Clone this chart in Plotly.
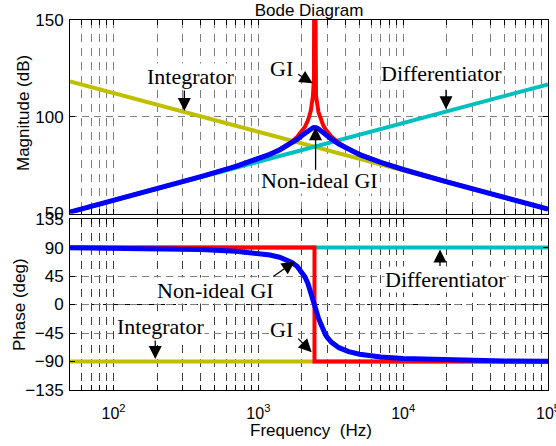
import math
import plotly.graph_objects as go

# ---------------- data ----------------
freq = [50, 100, 200, 400, 700, 1000, 1200, 1400, 1550, 1700, 1850, 2000, 2100,
        2200, 2300, 2380, 2420, 2440, 2460, 2500, 2600, 2700, 2800, 2900, 3000,
        3200, 3600, 4200, 5000, 7000, 10000, 20000, 50000, 100000]

# ideal generalized integrator magnitude (dB); resonance peak goes off scale
gi_mag = [50.73, 56.77, 62.83, 69.03, 74.40, 78.35, 80.74, 83.14, 85.05, 87.13,
          89.53, 92.45, 94.92, 98.16, 103.04, 110.56, 120.17, 250.0, 120.24, 110.77,
          102.42, 98.36, 95.68, 93.69, 92.12, 89.71, 86.46, 83.36, 80.63, 76.47,
          72.78, 66.36, 58.29, 52.25]

# non-ideal generalized integrator magnitude (dB) and phase (deg)
nonideal_mag = [50.73, 56.76, 62.83, 69.02, 74.36, 78.24, 80.56, 82.83, 84.57, 86.38,
                88.30, 90.31, 91.64, 92.87, 93.84, 94.29, 94.39, 94.40, 94.39, 94.30,
                93.76, 92.93, 91.98, 91.02, 90.10, 88.44, 85.82, 83.03, 80.45, 76.40,
                72.75, 66.35, 58.29, 52.25]
nonideal_phase = [89.62, 89.25, 88.49, 86.91, 84.29, 81.04, 78.27, 74.69, 71.18, 66.57,
                  60.29, 51.36, 43.27, 32.96, 20.28, 8.85, 2.94, 0.0, -2.92, -8.63,
                  -21.66, -32.37, -40.79, -47.33, -52.44, -59.76, -68.14, -74.33, -78.42, -82.76,
                  -85.25, -87.73, -89.10, -89.55]

# ideal GI phase: step from +90 to -90 at the resonance frequency
gi_phase_freq = [50, 2440, 2440, 100000]
gi_phase = [90, 90, -90, -90]

# integrator and differentiator (straight lines on the log axis)
line_freq = [50, 100000]
integrator_mag = [118.27, 52.25]
differentiator_mag = [50.73, 116.75]
integrator_phase = [-90, -90]
differentiator_phase = [90, 90]

# axis ticks
mag_ticks = [50, 100, 150]
phase_ticks = [-135, -90, -45, 0, 45, 90, 135]
decades = [100, 1000, 10000, 100000]
decade_labels = ["10<sup>2</sup>", "10<sup>3</sup>", "10<sup>4</sup>", "10<sup>5</sup>"]

# ---------------- styling ----------------
YELLOW = "#BFBF00"
CYAN = "#00BFBF"
RED = "#FF0000"
BLUE = "#0000FF"
SANS = "Liberation Sans, Arial, sans-serif"
SERIF = "Liberation Serif, Times New Roman, serif"

# every log grid position between 50 Hz and 100 kHz
grid_vals = []
grid_text = []
for e in range(1, 6):
    for m in range(1, 10):
        v = m * 10 ** e
        if 50 <= v <= 100000:
            grid_vals.append(v)
            grid_text.append(decade_labels[decades.index(v)] if v in decades else "")

fig = go.Figure()

def add(x, y, color, width, xa, ya):
    fig.add_trace(go.Scatter(x=x, y=y, mode="lines", xaxis=xa, yaxis=ya,
                             line=dict(color=color, width=width), showlegend=False,
                             hoverinfo="skip"))

# magnitude plot
add(line_freq, integrator_mag, YELLOW, 4, "x", "y")
add(line_freq, differentiator_mag, CYAN, 4, "x", "y")
add(freq, gi_mag, RED, 4, "x", "y")
add(freq, nonideal_mag, BLUE, 5, "x", "y")

# phase plot
add(line_freq, integrator_phase, YELLOW, 4, "x2", "y2")
add(line_freq, differentiator_phase, CYAN, 4, "x2", "y2")
add(gi_phase_freq, gi_phase, RED, 4, "x2", "y2")
add(freq, nonideal_phase, BLUE, 5, "x2", "y2")

xcommon = dict(type="log", range=[math.log10(50), 5], showline=True, linecolor="black",
               linewidth=1, mirror="ticks", ticks="inside", ticklen=5, tickcolor="black",
               tickvals=grid_vals, ticktext=grid_text, showgrid=True, gridwidth=1,
               griddash="8px,6px", zeroline=False, ticklabeloverflow="allow",
               automargin=False, tickfont=dict(family=SANS, size=16, color="black"))
ycommon = dict(showline=True, linecolor="black", linewidth=1, mirror="ticks",
               ticks="inside", ticklen=5, tickcolor="black", showgrid=True,
               gridcolor="#808080", gridwidth=1, griddash="7px,5px", zeroline=False,
               automargin=False, tickfont=dict(family=SANS, size=17, color="black"),
               ticklabelstandoff=2)

fig.update_layout(
    width=556, height=446,
    margin=dict(l=70, r=8, t=20, b=56, autoexpand=False),
    paper_bgcolor="white", plot_bgcolor="white",
    xaxis=dict(xcommon, anchor="y", showticklabels=False, gridcolor="#808080"),
    xaxis2=dict(xcommon, anchor="y2", showticklabels=True, gridcolor="#404040",
                ticklabelstandoff=9),
    yaxis=dict(ycommon, domain=[0.477, 1.0], range=[50, 150], tickvals=mag_ticks),
    yaxis2=dict(ycommon, domain=[0.0, 0.462], range=[-135, 135], tickvals=phase_ticks),
    title=dict(text="Bode Diagram", x=0.5, xref="paper", xanchor="center",
               y=(446 - 10) / 446, yref="container", yanchor="middle",
               font=dict(family=SANS, size=17, color="black")),
    font=dict(family=SANS, color="black"),
)

# darker dashed zero line on the phase plot
fig.add_shape(type="line", xref="x2 domain", yref="y2", x0=0, x1=1, y0=0, y1=0,
              line=dict(color="black", width=1, dash="7px,4px"), layer="below")

ann = []
# axis titles
ann.append(dict(text="Magnitude (dB)", xref="paper", yref="paper", x=(23 - 70) / 478,
                y=(390 - 113) / 370, textangle=-90, showarrow=False,
                xanchor="center", yanchor="middle", font=dict(family=SANS, size=17)))
ann.append(dict(text="Phase (deg)", xref="paper", yref="paper", x=(19 - 70) / 478,
                y=(390 - 305) / 370, textangle=-90, showarrow=False,
                xanchor="center", yanchor="middle", font=dict(family=SANS, size=17)))
ann.append(dict(text="Frequency  (Hz)", xref="paper", yref="paper", x=(311 - 70) / 478,
                y=(390 - 430) / 370, showarrow=False, xanchor="center", yanchor="middle",
                font=dict(family=SANS, size=17)))

def label(text, f, v, xr, yr):
    ann.append(dict(text=text, x=math.log10(f), y=v, xref=xr, yref=yr, showarrow=False,
                    bgcolor="white", borderpad=0, xanchor="center", yanchor="middle",
                    font=dict(family=SERIF, size=22, color="black")))

def arrow(f, v, ax, ay, xr, yr):
    ann.append(dict(text="", x=math.log10(f), y=v, xref=xr, yref=yr, showarrow=True,
                    ax=ax, ay=ay, arrowhead=2, arrowsize=2.0, arrowwidth=1.3,
                    arrowcolor="black"))

# magnitude labels
label("Integrator", 338, 120.9, "x", "y")
label("GI", 1450, 125.0, "x", "y")
label("Differentiator", 18530, 122.4, "x", "y")
label("Non-ideal GI", 2647, 67.3, "x", "y")
arrow(308, 103.0, 0, -22, "x", "y")
arrow(2370, 117.3, -16, -10, "x", "y")
arrow(19750, 103.9, 0, -21, "x", "y")
arrow(2483, 94.6, 0, 44, "x", "y")

# phase labels
label("Non-ideal GI", 502, 22.3, "x2", "y2")
label("GI", 1450, -39.0, "x2", "y2")
label("Differentiator", 19450, 39.6, "x2", "y2")
label("Integrator", 210, -34.3, "x2", "y2")
arrow(1782, 68.0, -23, 16, "x2", "y2")
arrow(2334, -75.2, -15, -15, "x2", "y2")
arrow(17950, 86.9, 0, 18, "x2", "y2")
arrow(194, -86.2, 0, -20, "x2", "y2")

fig.update_layout(annotations=ann)

fig.write_html("out.html")
